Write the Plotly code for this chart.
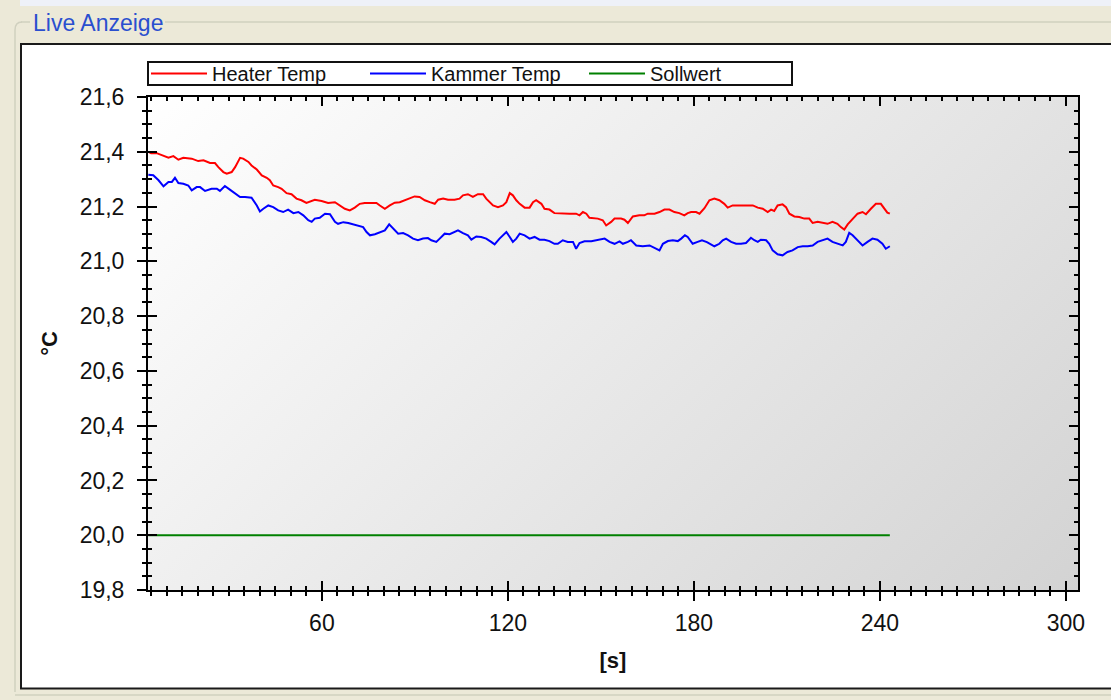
import base64
import plotly.graph_objects as go

# ---------------- data ----------------
t_heater = [4.0, 4.9, 6.7, 8.3, 10.5, 12.1, 13.7, 15.3, 18.0, 20.1, 21.8, 23.9, 25.5, 26.6, 28.2, 29.3,
            30.9, 32.0, 33.6, 34.6, 36.3, 37.3, 39.0, 40.6, 42.2, 43.2, 44.3, 45.9, 47.0, 48.6, 50.2,
            51.8, 53.4, 55.0, 56.1, 57.7, 59.9, 62.0, 64.2, 65.8, 67.4, 69.0, 70.6, 72.2, 73.8, 76.0,
            77.6, 78.7, 80.3, 81.9, 83.5, 85.1, 86.7, 88.3, 89.9, 91.5, 93.2, 94.8, 96.4, 97.5, 99.1,
            100.7, 102.8, 104.4, 105.5, 107.1, 108.7, 110.3, 112.0, 113.0, 114.1, 115.2, 116.8, 118.4,
            119.5, 120.6, 121.6, 122.7, 123.8, 125.4, 127.0, 128.1, 129.1, 130.8, 131.8, 133.4, 135.0,
            137.2, 139.9, 142.0, 143.1, 144.2, 145.3, 146.3, 149.0, 150.6, 151.7, 153.3, 154.4, 156.5,
            157.6, 158.7, 160.3, 162.4, 164.0, 165.1, 167.3, 168.9, 170.5, 172.1, 173.7, 175.3, 176.9,
            178.0, 179.1, 180.7, 181.8, 183.4, 185.0, 186.6, 188.2, 189.8, 190.9, 192.5, 195.7, 199.0,
            200.6, 202.2, 203.8, 204.9, 205.9, 207.0, 208.6, 209.7, 210.8, 212.4, 214.0, 215.6, 217.2,
            218.3, 219.9, 221.5, 223.1, 224.7, 226.3, 227.4, 228.5, 229.6, 231.2, 232.8, 234.4, 235.5,
            237.1, 238.7, 240.3, 241.4, 242.4, 243.2]
heater = [21.400, 21.395, 21.395, 21.387, 21.378, 21.384, 21.371, 21.378, 21.375, 21.366, 21.369, 21.359,
          21.359, 21.344, 21.326, 21.320, 21.326, 21.344, 21.378, 21.375, 21.363, 21.350, 21.335, 21.314,
          21.305, 21.296, 21.277, 21.271, 21.265, 21.249, 21.245, 21.229, 21.223, 21.213, 21.217, 21.225,
          21.220, 21.213, 21.216, 21.204, 21.192, 21.186, 21.196, 21.210, 21.213, 21.213, 21.213, 21.204,
          21.192, 21.204, 21.214, 21.216, 21.223, 21.232, 21.237, 21.235, 21.223, 21.216, 21.210, 21.225,
          21.229, 21.225, 21.225, 21.229, 21.241, 21.245, 21.235, 21.245, 21.245, 21.229, 21.216, 21.204,
          21.198, 21.204, 21.216, 21.249, 21.241, 21.223, 21.210, 21.196, 21.196, 21.216, 21.223, 21.210,
          21.192, 21.189, 21.176, 21.174, 21.174, 21.174, 21.168, 21.180, 21.174, 21.159, 21.156, 21.150,
          21.131, 21.144, 21.156, 21.156, 21.152, 21.140, 21.164, 21.168, 21.168, 21.174, 21.174, 21.180,
          21.189, 21.189, 21.180, 21.176, 21.168, 21.176, 21.180, 21.180, 21.174, 21.194, 21.223, 21.229,
          21.223, 21.210, 21.196, 21.204, 21.204, 21.204, 21.196, 21.192, 21.180, 21.189, 21.184, 21.204,
          21.208, 21.198, 21.174, 21.164, 21.162, 21.156, 21.156, 21.140, 21.144, 21.140, 21.137, 21.144,
          21.137, 21.125, 21.116, 21.135, 21.156, 21.174, 21.180, 21.172, 21.192, 21.210, 21.210, 21.192,
          21.178, 21.174]

t_kammer = [4.0, 5.6, 7.3, 8.9, 10.5, 11.6, 12.6, 13.7, 15.3, 16.9, 18.0, 19.6, 20.7, 22.3, 24.4, 26.1,
            27.1, 28.7, 30.3, 32.0, 33.6, 35.2, 37.3, 39.0, 40.0, 41.1, 42.7, 44.3, 45.9, 47.5, 49.1,
            50.8, 52.4, 54.0, 55.6, 56.7, 57.7, 59.3, 61.0, 62.6, 64.2, 65.2, 66.9, 68.5, 70.1, 71.7,
            73.3, 74.4, 75.5, 77.1, 78.7, 80.3, 81.7, 83.0, 84.6, 86.2, 87.8, 89.4, 91.0, 92.6, 94.2,
            95.3, 96.9, 98.0, 99.6, 101.2, 102.5, 103.9, 105.5, 107.1, 108.2, 109.8, 111.4, 113.0, 114.6,
            115.7, 117.3, 118.4, 119.5, 120.6, 121.6, 122.7, 123.8, 125.4, 127.0, 128.6, 130.2, 131.8,
            133.4, 135.0, 136.1, 137.7, 139.3, 141.0, 142.0, 143.1, 144.7, 146.9, 148.5, 150.1, 151.2,
            152.8, 154.4, 156.0, 157.1, 158.7, 159.7, 161.4, 163.5, 165.7, 167.3, 168.9, 170.0, 171.6,
            173.2, 174.8, 175.9, 177.1, 178.0, 179.6, 181.2, 182.6, 184.2, 185.8, 186.6, 188.2, 189.3,
            190.4, 192.0, 193.6, 195.2, 196.8, 198.4, 199.5, 200.6, 201.6, 203.3, 204.3, 205.4, 207.0,
            208.6, 210.2, 211.8, 213.5, 215.1, 216.7, 218.3, 219.9, 221.5, 223.1, 224.7, 226.3, 228.0,
            229.0, 230.1, 231.2, 232.8, 234.4, 236.0, 237.6, 239.2, 240.8, 241.9, 243.2]
kammer = [21.316, 21.314, 21.296, 21.274, 21.290, 21.290, 21.305, 21.286, 21.283, 21.277, 21.259, 21.271,
          21.271, 21.257, 21.265, 21.265, 21.257, 21.275, 21.262, 21.249, 21.235, 21.235, 21.232, 21.204,
          21.182, 21.192, 21.204, 21.198, 21.186, 21.180, 21.189, 21.176, 21.180, 21.168, 21.150, 21.144,
          21.156, 21.159, 21.174, 21.172, 21.144, 21.137, 21.143, 21.140, 21.135, 21.131, 21.125, 21.107,
          21.095, 21.099, 21.107, 21.113, 21.135, 21.119, 21.101, 21.103, 21.095, 21.083, 21.077, 21.083,
          21.085, 21.077, 21.071, 21.083, 21.101, 21.099, 21.107, 21.113, 21.103, 21.095, 21.079, 21.091,
          21.089, 21.083, 21.071, 21.062, 21.083, 21.095, 21.107, 21.089, 21.071, 21.083, 21.101, 21.095,
          21.083, 21.089, 21.079, 21.079, 21.074, 21.064, 21.064, 21.077, 21.071, 21.071, 21.046, 21.067,
          21.073, 21.073, 21.077, 21.079, 21.083, 21.071, 21.064, 21.073, 21.064, 21.071, 21.077, 21.058,
          21.055, 21.058, 21.050, 21.040, 21.064, 21.074, 21.077, 21.074, 21.083, 21.095, 21.089, 21.064,
          21.071, 21.077, 21.070, 21.060, 21.055, 21.064, 21.077, 21.083, 21.071, 21.064, 21.064, 21.067,
          21.086, 21.077, 21.071, 21.079, 21.077, 21.064, 21.040, 21.026, 21.022, 21.034, 21.040, 21.052,
          21.055, 21.055, 21.058, 21.071, 21.077, 21.083, 21.071, 21.064, 21.058, 21.071, 21.104, 21.095,
          21.077, 21.058, 21.071, 21.083, 21.079, 21.064, 21.046, 21.055]

t_soll = [4.0, 243.2]
soll = [20.0, 20.0]

series_names = ["Heater Temp", "Kammer Temp", "Sollwert"]
series_colors = ["#FF0000", "#0000FF", "#008000"]

x_range = [3.9, 303.9]
y_range = [19.8, 21.6]
x_title = "[s]"
y_title = "°C"
panel_title = "Live Anzeige"

# ---------------- figure geometry ----------------
W, H = 1111, 700
L, R, T, B = 148, 1078, 97, 590  # plot area in pixels
PW, PH = R - L, B - T


def px(x):
    return (x - L) / PW


def py(y):
    return (B - y) / PH


FONT = "Liberation Sans, Arial, sans-serif"

fig = go.Figure()
for name, color, xs, ys in zip(series_names, series_colors,
                               [t_heater, t_kammer, t_soll], [heater, kammer, soll]):
    fig.add_trace(go.Scatter(x=xs, y=ys, mode="lines", name=name,
                             line=dict(color=color, width=2)))
# helper (empty) trace so the overlay axes with inside ticks are drawn
fig.add_trace(go.Scatter(x=[], y=[], xaxis="x2", yaxis="y2", showlegend=False, hoverinfo="skip"))

# diagonal gradient for the chart area (white -> light gray, 45 deg)
diag = (PW + PH) / 2
svg = (f"<svg xmlns='http://www.w3.org/2000/svg' width='{PW}' height='{PH}' viewBox='0 0 {PW} {PH}' "
       f"preserveAspectRatio='none'><defs><linearGradient id='g' gradientUnits='userSpaceOnUse' "
       f"x1='0' y1='0' x2='{diag}' y2='{diag}'><stop offset='0' stop-color='#FFFFFF'/>"
       f"<stop offset='1' stop-color='#D3D3D3'/></linearGradient></defs>"
       f"<rect x='0' y='0' width='{PW}' height='{PH}' fill='url(#g)'/></svg>")
src = "data:image/svg+xml;base64," + base64.b64encode(svg.encode()).decode()

beige = "#ECE9D8"
frame = "#D0D0BF"
shapes = [
    # beige window background around the white panel
    dict(type="rect", xref="paper", yref="paper", x0=px(-5), x1=px(W + 5), y0=py(-5), y1=py(43),
         fillcolor=beige, line_width=0, layer="below"),
    dict(type="rect", xref="paper", yref="paper", x0=px(-5), x1=px(W + 5), y0=py(-5), y1=py(6),
         fillcolor="#EEF1F8", line_width=0, layer="below"),
    dict(type="rect", xref="paper", yref="paper", x0=px(-5), x1=px(20), y0=py(-5), y1=py(H + 5),
         fillcolor=beige, line_width=0, layer="below"),
    dict(type="rect", xref="paper", yref="paper", x0=px(-5), x1=px(W + 5), y0=py(689), y1=py(H + 5),
         fillcolor=beige, line_width=0, layer="below"),
    # group box frame lines
    dict(type="line", xref="paper", yref="paper", x0=px(165), x1=px(W + 5), y0=py(22), y1=py(22),
         line=dict(color=frame, width=1.5), layer="below"),
    dict(type="line", xref="paper", yref="paper", x0=px(21), x1=px(30), y0=py(22), y1=py(22),
         line=dict(color=frame, width=1.5), layer="below"),
    dict(type="path", xref="paper", yref="paper",
         path=f"M {px(15)},{py(30)} Q {px(15)},{py(22)} {px(22)},{py(22)}",
         line=dict(color=frame, width=1.5), layer="below"),
    dict(type="line", xref="paper", yref="paper", x0=px(15), x1=px(15), y0=py(30), y1=py(692),
         line=dict(color=frame, width=1.5), layer="below"),
    dict(type="line", xref="paper", yref="paper", x0=px(15), x1=px(W + 5), y0=py(695), y1=py(695),
         line=dict(color=frame, width=1.5), layer="below"),
    # white panel border
    dict(type="rect", xref="paper", yref="paper", x0=px(21), x1=px(W + 20), y0=py(44), y1=py(688.5),
         fillcolor="rgba(0,0,0,0)", line=dict(color="#1a1a1a", width=2), layer="below"),
    # legend frame
    dict(type="rect", xref="paper", yref="paper", x0=px(148), x1=px(792), y0=py(62), y1=py(85),
         fillcolor="white", line=dict(color="#111111", width=2), layer="below"),
]

tickfont = dict(family=FONT, size=23, color="#111111")
axis_common = dict(showgrid=False, zeroline=False, showline=True, linecolor="black", linewidth=2,
                   tickcolor="black", tickwidth=2)

fig.update_layout(
    width=W, height=H,
    margin=dict(l=L, r=W - R, t=T, b=H - B, autoexpand=False),
    paper_bgcolor="white",
    plot_bgcolor="rgba(0,0,0,0)",
    separators=",.",
    showlegend=True,
    images=[dict(source=src, xref="paper", yref="paper", x=0, y=1, sizex=1, sizey=1,
                 xanchor="left", yanchor="top", sizing="stretch", layer="below")],
    shapes=shapes,
    annotations=[dict(text=panel_title, xref="paper", yref="paper", x=px(31), y=py(23),
                      xanchor="left", yanchor="middle", showarrow=False,
                      font=dict(family=FONT, size=23, color="#2a4fcf"),
                      bgcolor=beige)],
    legend=dict(orientation="h", x=px(146), xanchor="left", y=py(73.5), yanchor="middle",
                bgcolor="rgba(0,0,0,0)", borderwidth=0,
                font=dict(family=FONT, size=20, color="#111111"),
                entrywidth=148, entrywidthmode="pixels", itemwidth=56,
                tracegroupgap=0),
    xaxis=dict(range=x_range, dtick=60, tick0=0, ticks="outside", ticklen=9,
               minor=dict(dtick=5, tick0=0, ticks="outside", ticklen=4, tickcolor="black", tickwidth=1.5),
               tickfont=tickfont, ticklabelstandoff=2,
               title=dict(text=f"<b>{x_title}</b>", font=dict(family=FONT, size=22, color="#111111"),
                          standoff=18),
               **axis_common),
    yaxis=dict(range=y_range, dtick=0.2, tick0=19.8, tickformat=".1f", ticks="outside", ticklen=9,
               minor=dict(dtick=0.05, tick0=19.8, ticks="outside", ticklen=4, tickcolor="black", tickwidth=1.5),
               tickfont=tickfont, ticklabelstandoff=8,
               title=dict(text=f"<b>{y_title}</b>", font=dict(family=FONT, size=22, color="#111111"),
                          standoff=16),
               **axis_common),
    xaxis2=dict(overlaying="x", matches="x", range=x_range, dtick=60, tick0=0, ticks="inside", ticklen=9,
                minor=dict(dtick=5, tick0=0, ticks="inside", ticklen=4, tickcolor="black", tickwidth=1.5),
                showticklabels=False, mirror="ticks", anchor="y2", **axis_common),
    yaxis2=dict(overlaying="y", matches="y", range=y_range, dtick=0.2, tick0=19.8, ticks="inside", ticklen=9,
                minor=dict(dtick=0.05, tick0=19.8, ticks="inside", ticklen=4, tickcolor="black", tickwidth=1.5),
                showticklabels=False, mirror="ticks", anchor="x2", **axis_common),
)

fig.write_html("out.html", config={"displayModeBar": False},
               post_script="document.body.style.margin='0px';document.body.style.overflow='hidden';")
